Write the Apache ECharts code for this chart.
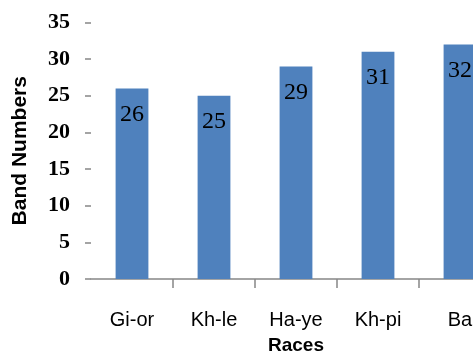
<!DOCTYPE html>
<html>
<head>
<meta charset="utf-8">
<script src="https://cdn.jsdelivr.net/npm/echarts@6/dist/echarts.min.js"></script>
<style>
  html, body { margin: 0; padding: 0; background: #fff; overflow: hidden; }
  #wrap { width: 473px; height: 360px; overflow: hidden; }
  #chart { width: 501px; height: 360px; }
</style>
</head>
<body>
<div id="wrap"><div id="chart"></div></div>
<script>
// Band counts per race
const races = ['Gi-or', 'Kh-le', 'Ha-ye', 'Kh-pi', 'Ba'];
const bandNumbers = [26, 25, 29, 31, 32];
const yTicks = [0, 5, 10, 15, 20, 25, 30, 35];

const chart = echarts.init(document.getElementById('chart'), null, { renderer: 'canvas' });

chart.setOption({
  animation: false,
  backgroundColor: '#ffffff',
  grid: { left: 91, top: 22.5, bottom: 77, right: 0, containLabel: false },
  xAxis: {
    type: 'category',
    data: races,
    name: 'Races',
    nameLocation: 'middle',
    nameGap: 57,
    nameTextStyle: { fontFamily: 'Liberation Sans', fontWeight: 'bold', fontSize: 19, color: '#000' },
    axisLine: { lineStyle: { color: '#868686', width: 1.5 } },
    // only the dividers between categories carry a tick
    axisTick: { show: true, length: 9, interval: (i) => i > 0, lineStyle: { color: '#868686', width: 1.5 } },
    axisLabel: { margin: 31, interval: 0, fontFamily: 'Liberation Sans', fontSize: 20, color: '#000' }
  },
  yAxis: {
    type: 'value',
    min: yTicks[0],
    max: yTicks[yTicks.length - 1],
    interval: yTicks[1] - yTicks[0],
    name: 'Band Numbers',
    nameLocation: 'middle',
    nameGap: 60,
    nameTextStyle: { fontFamily: 'Liberation Sans', fontWeight: 'bold', fontSize: 21, color: '#000' },
    axisLine: { show: false },
    axisTick: { show: true, length: 6, lineStyle: { color: '#868686', width: 1.5 } },
    splitLine: { show: false },
    axisLabel: { margin: 21, fontFamily: 'Liberation Serif', fontWeight: 'bold', fontSize: 22, color: '#000' }
  },
  series: [{
    type: 'bar',
    data: bandNumbers,
    barWidth: '40%',
    itemStyle: { color: '#4F81BD' },
    label: {
      show: true,
      position: 'insideTop',
      distance: 14,
      fontFamily: 'Liberation Serif',
      fontSize: 24,
      color: '#000'
    }
  }]
});
</script>
</body>
</html>
